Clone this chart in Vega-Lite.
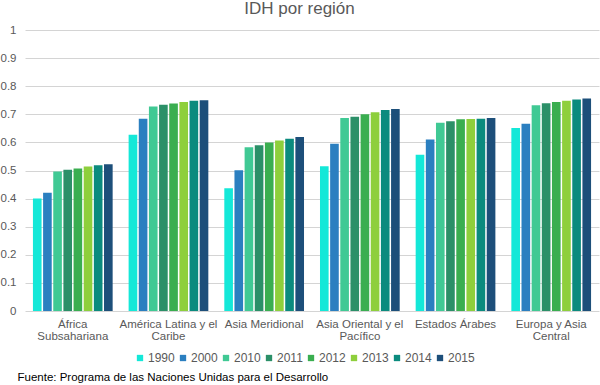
{
  "$schema": "https://vega.github.io/schema/vega-lite/v6.json",
  "autosize": {"type": "none"},
  "width": 574,
  "height": 281,
  "padding": {"left": 25, "top": 30, "right": 1, "bottom": 74},
  "background": "white",
  "title": {
    "text": "IDH por región",
    "anchor": "middle",
    "frame": "bounds",
    "font": "Liberation Sans",
    "fontSize": 17,
    "fontWeight": "normal",
    "color": "#595959",
    "offset": 6
  },
  "config": {
    "view": {"stroke": null},
    "font": "Liberation Sans"
  },
  "data": {
    "values": [
      {"region": "África Subsahariana", "year": "1990", "idh": 0.400},
      {"region": "África Subsahariana", "year": "2000", "idh": 0.421},
      {"region": "África Subsahariana", "year": "2010", "idh": 0.496},
      {"region": "África Subsahariana", "year": "2011", "idh": 0.503},
      {"region": "África Subsahariana", "year": "2012", "idh": 0.507},
      {"region": "África Subsahariana", "year": "2013", "idh": 0.514},
      {"region": "África Subsahariana", "year": "2014", "idh": 0.519},
      {"region": "África Subsahariana", "year": "2015", "idh": 0.522},
      {"region": "América Latina y el Caribe", "year": "1990", "idh": 0.627},
      {"region": "América Latina y el Caribe", "year": "2000", "idh": 0.684},
      {"region": "América Latina y el Caribe", "year": "2010", "idh": 0.728},
      {"region": "América Latina y el Caribe", "year": "2011", "idh": 0.734},
      {"region": "América Latina y el Caribe", "year": "2012", "idh": 0.738},
      {"region": "América Latina y el Caribe", "year": "2013", "idh": 0.744},
      {"region": "América Latina y el Caribe", "year": "2014", "idh": 0.748},
      {"region": "América Latina y el Caribe", "year": "2015", "idh": 0.750},
      {"region": "Asia Meridional", "year": "1990", "idh": 0.437},
      {"region": "Asia Meridional", "year": "2000", "idh": 0.501},
      {"region": "Asia Meridional", "year": "2010", "idh": 0.583},
      {"region": "Asia Meridional", "year": "2011", "idh": 0.590},
      {"region": "Asia Meridional", "year": "2012", "idh": 0.600},
      {"region": "Asia Meridional", "year": "2013", "idh": 0.607},
      {"region": "Asia Meridional", "year": "2014", "idh": 0.613},
      {"region": "Asia Meridional", "year": "2015", "idh": 0.619},
      {"region": "Asia Oriental y el Pacífico", "year": "1990", "idh": 0.515},
      {"region": "Asia Oriental y el Pacífico", "year": "2000", "idh": 0.595},
      {"region": "Asia Oriental y el Pacífico", "year": "2010", "idh": 0.687},
      {"region": "Asia Oriental y el Pacífico", "year": "2011", "idh": 0.691},
      {"region": "Asia Oriental y el Pacífico", "year": "2012", "idh": 0.700},
      {"region": "Asia Oriental y el Pacífico", "year": "2013", "idh": 0.707},
      {"region": "Asia Oriental y el Pacífico", "year": "2014", "idh": 0.715},
      {"region": "Asia Oriental y el Pacífico", "year": "2015", "idh": 0.719},
      {"region": "Estados Árabes", "year": "1990", "idh": 0.556},
      {"region": "Estados Árabes", "year": "2000", "idh": 0.610},
      {"region": "Estados Árabes", "year": "2010", "idh": 0.670},
      {"region": "Estados Árabes", "year": "2011", "idh": 0.675},
      {"region": "Estados Árabes", "year": "2012", "idh": 0.682},
      {"region": "Estados Árabes", "year": "2013", "idh": 0.683},
      {"region": "Estados Árabes", "year": "2014", "idh": 0.684},
      {"region": "Estados Árabes", "year": "2015", "idh": 0.687},
      {"region": "Europa y Asia Central", "year": "1990", "idh": 0.651},
      {"region": "Europa y Asia Central", "year": "2000", "idh": 0.666},
      {"region": "Europa y Asia Central", "year": "2010", "idh": 0.732},
      {"region": "Europa y Asia Central", "year": "2011", "idh": 0.739},
      {"region": "Europa y Asia Central", "year": "2012", "idh": 0.744},
      {"region": "Europa y Asia Central", "year": "2013", "idh": 0.748},
      {"region": "Europa y Asia Central", "year": "2014", "idh": 0.753},
      {"region": "Europa y Asia Central", "year": "2015", "idh": 0.756}
    ]
  },
  "mark": {"type": "bar"},
  "encoding": {
    "x": {
      "field": "region",
      "type": "nominal",
      "sort": null,
      "scale": {"paddingInner": 0.167, "paddingOuter": 0.083},
      "axis": {
        "title": "Fuente: Programa de las Naciones Unidas para el Desarrollo",
        "titleFont": "Liberation Sans",
        "titleFontSize": 11.5,
        "titleFontWeight": "normal",
        "titleColor": "#000000",
        "titleAnchor": "start",
        "titleAlign": "left",
        "titleBaseline": "middle",
        "titleX": -8,
        "titleY": 66,
        "labelAngle": 0,
        "labelFontSize": 11.5,
        "labelColor": "#595959",
        "labelPadding": 7,
        "labelLineHeight": 12.5,
        "labelLimit": 200,
        "ticks": false,
        "domain": false,
        "labelExpr": "datum.value == 'África Subsahariana' ? ['África', 'Subsahariana'] : datum.value == 'América Latina y el Caribe' ? ['América Latina y el', 'Caribe'] : datum.value == 'Asia Oriental y el Pacífico' ? ['Asia Oriental y el', 'Pacífico'] : datum.value == 'Europa y Asia Central' ? ['Europa y Asia', 'Central'] : datum.value"
      }
    },
    "xOffset": {
      "field": "year",
      "type": "nominal",
      "scale": {"paddingInner": 0.15, "paddingOuter": 0}
    },
    "y": {
      "field": "idh",
      "type": "quantitative",
      "scale": {"domain": [0, 1], "nice": false},
      "axis": {
        "title": null,
        "values": [0, 0.1, 0.2, 0.3, 0.4, 0.5, 0.6, 0.7, 0.8, 0.9, 1],
        "format": ".1~f",
        "labelFontSize": 11.5,
        "labelColor": "#595959",
        "labelPadding": 9,
        "ticks": false,
        "domain": false,
        "gridColor": "#d4d4d4",
        "gridWidth": 1
      }
    },
    "color": {
      "field": "year",
      "type": "nominal",
      "scale": {
        "domain": ["1990", "2000", "2010", "2011", "2012", "2013", "2014", "2015"],
        "range": ["#14e8d8", "#2b7fc0", "#40c994", "#2b9068", "#3aae50", "#8ecf3c", "#0b8b7e", "#1d4f7a"]
      },
      "legend": {
        "title": null,
        "orient": "none",
        "direction": "horizontal",
        "columns": 8,
        "legendX": 109,
        "legendY": 322,
        "symbolType": "square",
        "symbolSize": 40,
        "symbolStrokeWidth": 0,
        "labelFontSize": 12,
        "labelColor": "#595959",
        "labelOffset": 2,
        "columnPadding": 2
      }
    }
  }
}
